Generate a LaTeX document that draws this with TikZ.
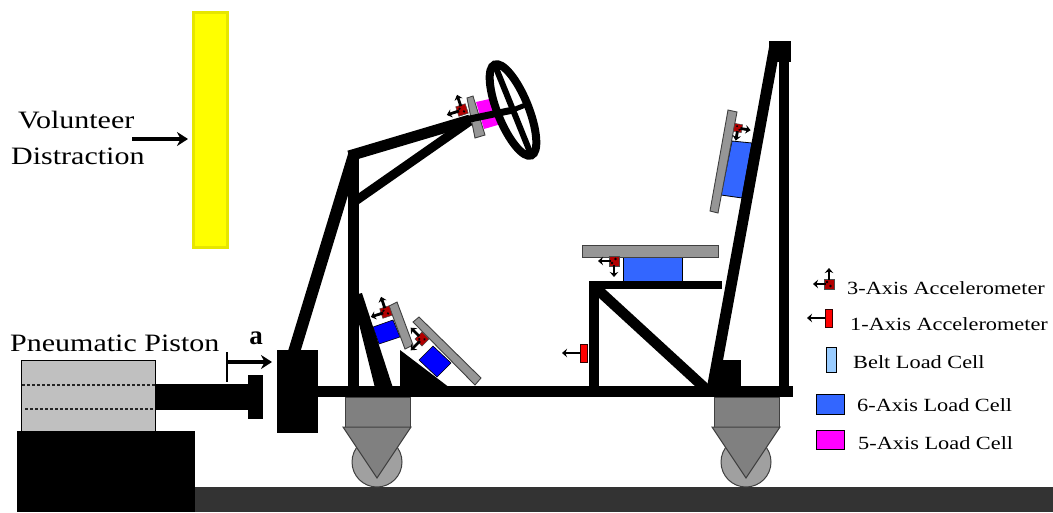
\documentclass[tikz,border=0pt]{standalone}
\usepackage{fontspec}
\setmainfont{Liberation Serif}
\newfontfamily\widefont[FakeStretch=1.2]{Liberation Serif}
\usetikzlibrary{arrows.meta}
\definecolor{cellblue}{HTML}{3366FF}
\definecolor{deepblue}{HTML}{0000FF}
\definecolor{cellmag}{HTML}{FF00FF}
\definecolor{beltblue}{HTML}{99CCFF}
\definecolor{plategray}{HTML}{969696}
\definecolor{pistgray}{HTML}{C0C0C0}
\definecolor{ground}{HTML}{333333}
\definecolor{mountgray}{HTML}{808080}
\definecolor{wheelgray}{HTML}{A0A0A0}
\definecolor{vyellow}{HTML}{FFFF00}
\definecolor{vedge}{HTML}{E6E600}
\tikzset{
  x=1pt,y=-1pt,
  member/.style={line width=#1,draw=black,line cap=butt},
  member/.default=10pt,
  solid block/.style={fill=black,draw=none},
  plate/.style={fill=plategray,draw=black!75,line width=0.9pt},
  sixcell/.style={fill=cellblue,draw=black,line width=0.8pt},
  fivecell/.style={fill=cellmag,draw=none},
  label text/.style={font=\widefont\fontsize{25}{26}\selectfont,inner sep=0pt,anchor=west},
  legend text/.style={font=\widefont\fontsize{18.6}{20}\selectfont,inner sep=0pt,anchor=west},
  tiny arrow/.style={draw=black,line width=2.8pt,-{Stealth[length=5pt,width=8.5pt]}},
  main arrow/.style={draw=black,line width=3.2pt,-{Stealth[length=11pt,width=14pt]}},
  pics/threeaxis/.style={code={
    \fill[red!70!black,draw=black!70,line width=.5pt] (-5,-5) -- (5,-5) -- (5,5) -- (-5,5) -- cycle;
    \fill[black] (-2,-2) circle (1.3pt) (1.5,2) circle (1.3pt);
    \draw[tiny arrow] (-3,0) -- (-16,0);
    \draw[tiny arrow] (0,-4) -- (0,-16);
  }},
  pics/oneaxis/.style={code={
    \fill[red,draw=black!80!red,line width=.7pt] (0,-9) rectangle (7,9);
    \draw[tiny arrow] (0,0) -- (-18,0);
  }},
  pics/castor/.style={code={
    \fill[wheelgray,draw=black!75,line width=1pt] (0,0) circle (25);
    \fill[mountgray,draw=black!75,line width=1pt] (-32,-65) rectangle (33,-35);
    \fill[mountgray,draw=black!75,line width=1pt] (-34,-35) -- (34,-35) -- (0,16) -- cycle;
  }}
}
\begin{document}
\begin{tikzpicture}
\useasboundingbox (0,0) rectangle (1053,512);
% ground and base
\fill[ground] (195,487) rectangle (1053,512);
\fill[solid block] (17,431) rectangle (195,512);
% piston
\fill[pistgray,draw=black,line width=1pt] (21,360) rectangle (155,431);
\draw[dash pattern=on 3pt off 2pt,line width=1.6pt,black!85] (22,385) -- (155,385);
\draw[dash pattern=on 3pt off 2pt,line width=1.6pt,black!85] (25,409) -- (156,409);
\fill[solid block] (155,384) rectangle (249,410);
\fill[solid block] (248,375) rectangle (263,419);
\fill[solid block] (277,350) rectangle (318,433);
% yellow board
\node[draw=vedge,fill=vyellow,line width=3pt,minimum width=34pt,minimum height=235pt,inner sep=0pt,anchor=north west] (board) at (191.5,10.5) {};
% castors
\pic at (377,462) {castor};
\pic at (746,462) {castor};
% load cells behind frame
\fill[fivecell] (476,102) -- (494,98) -- (501,124) -- (484,129) -- cycle;
\draw[sixcell] (623,257) rectangle (682,281);
\draw[sixcell] (732,141) -- (752,143) -- (742,198) -- (721,195) -- cycle;
\draw[fill=deepblue,draw=black,line width=.6pt] (373,327) -- (393,320) -- (400,337) -- (379,344) -- cycle;
\draw[fill=deepblue,draw=black,line width=.6pt] (419,360) -- (433,346) -- (451,363) -- (437,377) -- cycle;
% frame
\coordinate (baseL) at (318,391.5);
\coordinate (baseR) at (793,391.5);
\coordinate (postTop) at (353,152);
\coordinate (postBot) at (353,390);
\draw[member=11pt] (baseL) -- (baseR);
\draw[member=11pt] (postTop) -- (postBot);
\draw[member=12pt] (294,352) -- (354,155);
\draw[member=9pt] (354,202) -- (470,121);
\fill[solid block] (358,294) -- (362,293) -- (393,388) -- (375,388) -- (358,320) -- cycle;
\fill[solid block] (400,350) -- (450,388) -- (400,388) -- cycle;
\draw[member=10pt] (594,281) -- (594,390);
\draw[member=8pt] (589,285) -- (722,285);
\draw[member=10.5pt] (597,289) -- (707,390);
\draw[member=11pt] (712,390) -- (775,45);
\draw[member=10pt] (784,45) -- (784,390);
\fill[solid block] (769,41) rectangle (791,62);
\fill[solid block] (717,360) rectangle (741,390);
% plates
\draw[plate] (582,245) rectangle (718,257);
\draw[plate] (728,110) -- (737,112) -- (718,213) -- (710,211) -- cycle;
\draw[plate] (389,306) -- (397,302) -- (413,345) -- (405,349) -- cycle;
\draw[plate] (413,322) -- (419,317) -- (481,378) -- (475,385) -- cycle;
\draw[plate] (467,98) -- (473,96) -- (485,135) -- (475,138) -- cycle;
% arm and shaft run over the plate
\draw[member=11pt] (349,156) -- (470,120);
\draw[member=7pt] (465,120) -- (513,110);
% steering wheel
\begin{scope}[rotate around={22:(513,110)}]
  \draw[line width=8pt] (513,110) ellipse (15.5 and 49);
  \draw[line width=6pt] (513,62) -- (513,158);
  \draw[line width=5pt] (513,110) -- (528,110);
\end{scope}
% accelerometers
\pic[rotate=18] at (462,110) {threeaxis};
\pic[rotate=18] at (386,312) {threeaxis};
\pic[rotate=45] at (422,339) {threeaxis};
\pic[rotate=180,xscale=-1] at (614,261) {threeaxis};
\pic[rotate=170,scale=.8] at (738,128) {threeaxis};
\pic at (580,353) {oneaxis};
% legend
\pic at (829,284) {threeaxis};
\pic at (825,318) {oneaxis};
\draw[fill=beltblue,draw=black,line width=1pt] (826,347) rectangle (836,372);
\draw[sixcell,line width=1pt] (816,394) rectangle (844,414);
\draw[fivecell,draw=black,line width=1pt] (816,430) rectangle (844,449);
\node[legend text] (l3) at (847,288) {3-Axis Accelerometer};
\node[legend text] (l1) at (850,324) {1-Axis Accelerometer};
\node[legend text] (lb) at (853,362) {Belt Load Cell};
\node[legend text] (l6) at (857,405) {6-Axis Load Cell};
\node[legend text] (l5) at (858,443) {5-Axis Load Cell};
% labels
\node[label text] (pp) at (10,343) {Pneumatic Piston};
\node[label text] (vol) at (18,120) {Volunteer};
\node[label text] (dis) at (11,156) {Distraction};
\node[font=\fontsize{27}{28}\selectfont\bfseries,inner sep=0pt] (acc) at (256,338) {a};
\coordinate (vs) at (132,139);
\coordinate (ve) at (188,139);
\draw[main arrow] (vs) -- (ve);
\coordinate (as) at (227,362);
\coordinate (ae) at (272,362);
\draw[main arrow] (as) -- (ae);
\draw[line width=1.3pt] (227,352) -- (227,382);
\end{tikzpicture}
\end{document}
